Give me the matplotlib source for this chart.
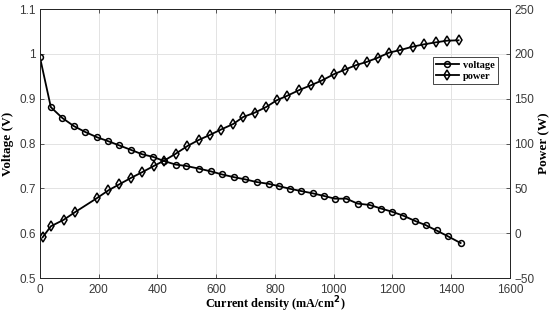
import matplotlib.pyplot as plt
from matplotlib.lines import Line2D

# voltage curve
current_v = [0, 37, 76, 115, 153, 194, 233, 269, 309, 348, 386, 422, 462, 497,
             541, 581, 620, 660, 699, 738, 779, 813, 851, 889, 928, 967, 1004,
             1043, 1081, 1122, 1161, 1198, 1237, 1278, 1313, 1350, 1389, 1432]
voltage = [0.992, 0.881, 0.857, 0.839, 0.826, 0.814, 0.805, 0.796, 0.786, 0.776,
           0.770, 0.761, 0.753, 0.750, 0.744, 0.738, 0.731, 0.725, 0.720, 0.714,
           0.710, 0.705, 0.699, 0.694, 0.689, 0.683, 0.677, 0.677, 0.666, 0.663,
           0.655, 0.648, 0.639, 0.627, 0.618, 0.606, 0.593, 0.578]

# power curve
current_p = [9, 37, 81, 120, 193, 233, 270, 309, 349, 387, 422, 462, 502, 540,
             578, 615, 658, 692, 731, 770, 806, 842, 883, 924, 961, 1000, 1037,
             1077, 1114, 1150, 1188, 1227, 1269, 1307, 1347, 1386, 1425]
power = [-4.6, 7.7, 15.0, 23.6, 38.9, 47.8, 54.5, 61.5, 68.2, 74.9, 80.8, 88.6,
         97.2, 103.9, 109.5, 115.4, 121.8, 129.6, 134.4, 140.7, 148.2, 153.3,
         159.7, 165.2, 170.5, 177.2, 182.3, 187.5, 191.2, 195.7, 201.3, 204.3,
         208.0, 210.6, 212.8, 214.7, 215.1]

serif = ["Liberation Serif", "DejaVu Serif"]
tick_col = "#3a3a3a"

fig = plt.figure(figsize=(5.5, 3.14), dpi=100)
ax = fig.add_axes([0.0727, 0.1146, 0.8545, 0.8567])
ax2 = ax.twinx()

ax.plot(current_v, voltage, color="k", lw=1.3, marker="o", ms=4.2,
        mfc="none", mew=1.1, zorder=3)
ax2.plot(current_p, power, color="k", lw=1.3, marker="d", ms=5,
         mfc="none", mew=1.1, zorder=3)

ax.set_xlim(0, 1600)
ax.set_ylim(0.5, 1.1)
ax2.set_ylim(-50, 250)
ax.set_xticks(range(0, 1601, 200))
ax.set_yticks([0.5, 0.6, 0.7, 0.8, 0.9, 1.0, 1.1])
ax.set_yticklabels(["0.5", "0.6", "0.7", "0.8", "0.9", "1", "1.1"])
ax2.set_yticks(range(-50, 251, 50))

ax.grid(True, color="#e3e3e3", lw=0.7)
ax.set_axisbelow(True)

for a in (ax, ax2):
    a.tick_params(direction="in", labelsize=8.5, colors=tick_col, length=3,
                  width=0.6, pad=3)
    for lab in a.get_xticklabels() + a.get_yticklabels():
        lab.set_family(["Liberation Sans", "DejaVu Sans"])
    for sp in a.spines.values():
        sp.set_color("#262626")
        sp.set_linewidth(0.7)
ax.tick_params(top=True, right=False)
ax.tick_params(axis="x", pad=4)

ax.set_xlabel("Current density (mA/cm$^\\mathbf{2}$)", family=serif,
              fontweight="bold", fontsize=8.8, labelpad=-1)
ax.set_ylabel("Voltage (V)", family=serif, fontweight="bold", fontsize=9.5,
              labelpad=4)
ax2.set_ylabel("Power (W)", family=serif, fontweight="bold", fontsize=9.5,
               labelpad=3)

handles = [
    Line2D([], [], color="k", lw=1.3, marker="o", ms=4.2, mfc="none", mew=1.1),
    Line2D([], [], color="k", lw=1.3, marker="d", ms=5, mfc="none", mew=1.1),
]
leg = ax2.legend(handles, ["voltage", "power"], loc="upper right",
                 bbox_to_anchor=(0.985, 0.84), fancybox=False, framealpha=1,
                 edgecolor="#262626", handlelength=2.2, borderpad=0.3,
                 labelspacing=0.2, handletextpad=0.4,
                 prop={"family": serif, "weight": "bold", "size": 7.5})
leg.get_frame().set_linewidth(0.6)

fig.savefig("out.png", dpi=100)
